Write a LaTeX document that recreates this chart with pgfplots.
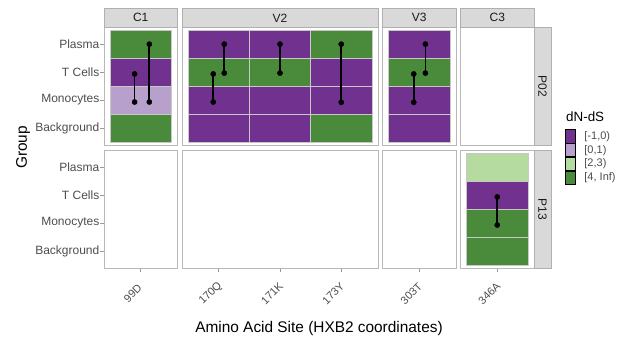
\documentclass[border=0pt]{standalone}
\usepackage{fontspec}
\setmainfont{Liberation Sans}
\usepackage{pgfplots}
\pgfplotsset{compat=1.18}
\definecolor{dpur}{HTML}{70318F}
\definecolor{lpur}{HTML}{B8A0CC}
\definecolor{lgre}{HTML}{B5DBA1}
\definecolor{dgre}{HTML}{4A8B3B}
\definecolor{frame}{HTML}{B8B8B8}
\definecolor{tgrid}{HTML}{C8C8C8}
\definecolor{stripf}{HTML}{D9D9D9}
\definecolor{stripd}{HTML}{B0B0B0}
\definecolor{gthirty}{HTML}{4D4D4D}
\definecolor{gten}{HTML}{1A1A1A}
\newcommand\ticktext{\fontsize{12bp}{14bp}\selectfont}
\newcommand\xticktext{\fontsize{11bp}{13bp}\selectfont}
\newcommand\striptext{\fontsize{12bp}{14bp}\selectfont}
\newcommand\titletext{\fontsize{15.4bp}{18bp}\selectfont}
\newcommand\legtitle{\fontsize{13.4bp}{15bp}\selectfont}
\newcommand\legtext{\fontsize{11bp}{12bp}\selectfont}
\newcommand\tile[5]{\addplot[tile,fill=#5] coordinates {(#1,#2) (#3,#2) (#3,#4) (#1,#4)} --cycle;}
\pgfplotsset{
  panel/.style={scale only axis, anchor=south west, xmin=0.4, ymin=0.4, ymax=4.6,
    height=118bp, axis line style={draw=frame, line width=0.7bp},
    xtick=\empty, ytick=\empty, tick align=outside, major tick length=3.5bp,
    tick style={draw=gray!80, line width=0.6bp}, xtick pos=bottom, ytick pos=left,
    /pgf/number format/assume math mode=true},
  tile/.style={draw=tgrid, line width=0.5bp, forget plot},
  seg/.style={black, line width=1.7bp, mark=*, mark size=2.6bp, mark options={fill=black, line width=0.4bp}, forget plot},
  ylabs/.style={ytick={1,2,3,4}, yticklabels={Background,Monocytes,T Cells,Plasma},
    yticklabel style={font=\ticktext, text=gthirty, inner xsep=1bp}},
  xlabs/.style={xticklabel style={font=\xticktext, text=gthirty, anchor=center, xshift=-8bp, yshift=-22bp, rotate=45}},
}
\begin{document}
\begin{tikzpicture}
\path (0,0) rectangle (629bp,-343bp);
% ---------------- P02 row ----------------
\begin{axis}[panel, at={(104bp,-145bp)}, width=73.5bp, xmax=1.6, ylabs]
\tile{0.5}{3.5}{1.5}{4.5}{dgre}
\tile{0.5}{2.5}{1.5}{3.5}{dpur}
\tile{0.5}{1.5}{1.5}{2.5}{lpur}
\tile{0.5}{0.5}{1.5}{1.5}{dgre}
\addplot[seg] coordinates {(0.90,2.93) (0.90,1.93)};
\addplot[seg] coordinates {(1.14,3.99) (1.14,1.93)};
\end{axis}
\begin{axis}[panel, at={(182bp,-145bp)}, width=196bp, xmax=3.6]
% 170Q
\tile{0.5}{3.5}{1.5}{4.5}{dpur}
\tile{0.5}{2.5}{1.5}{3.5}{dgre}
\tile{0.5}{1.5}{1.5}{2.5}{dpur}
\tile{0.5}{0.5}{1.5}{1.5}{dpur}
% 171K
\tile{1.5}{3.5}{2.5}{4.5}{dpur}
\tile{1.5}{2.5}{2.5}{3.5}{dgre}
\tile{1.5}{1.5}{2.5}{2.5}{dpur}
\tile{1.5}{0.5}{2.5}{1.5}{dpur}
% 173Y
\tile{2.5}{3.5}{3.5}{4.5}{dgre}
\tile{2.5}{2.5}{3.5}{3.5}{dpur}
\tile{2.5}{1.5}{3.5}{2.5}{dpur}
\tile{2.5}{0.5}{3.5}{1.5}{dgre}
\addplot[seg] coordinates {(1.09,3.99) (1.09,2.96)};
\addplot[seg] coordinates {(0.91,2.93) (0.91,1.93)};
\addplot[seg] coordinates {(2.00,3.99) (2.00,2.96)};
\addplot[seg] coordinates {(3.00,3.99) (3.00,1.92)};
\end{axis}
\begin{axis}[panel, at={(382.5bp,-145bp)}, width=73.5bp, xmax=1.6]
\tile{0.5}{3.5}{1.5}{4.5}{dpur}
\tile{0.5}{2.5}{1.5}{3.5}{dgre}
\tile{0.5}{1.5}{1.5}{2.5}{dpur}
\tile{0.5}{0.5}{1.5}{1.5}{dpur}
\addplot[seg] coordinates {(1.10,3.99) (1.10,2.96)};
\addplot[seg] coordinates {(0.91,2.93) (0.91,1.92)};
\end{axis}
\begin{axis}[panel, at={(460.5bp,-145bp)}, width=73.5bp, xmax=1.6]
\end{axis}
% ---------------- P13 row ----------------
\begin{axis}[panel, at={(104bp,-268bp)}, width=73.5bp, xmax=1.6, ylabs, xlabs,
  xtick={1}, xticklabels={99D}]
\end{axis}
\begin{axis}[panel, at={(182bp,-268bp)}, width=196bp, xmax=3.6, xlabs,
  xtick={1,2,3}, xticklabels={170Q,171K,173Y}]
\end{axis}
\begin{axis}[panel, at={(382.5bp,-268bp)}, width=73.5bp, xmax=1.6, xlabs,
  xtick={1}, xticklabels={303T}]
\end{axis}
\begin{axis}[panel, at={(460.5bp,-268bp)}, width=73.5bp, xmax=1.6, xlabs,
  xtick={1}, xticklabels={346A},
  legend style={at={(1.422,1.178)}, anchor=north west, draw=none, fill=none,
    inner sep=0pt, outer sep=0pt, row sep=0pt, font=\legtext,
    nodes={inner sep=0pt, text=gthirty},
    /tikz/every odd column/.style={column sep=9bp}},
  legend cell align=left,
  legend image code/.code={\path[#1] (0bp,-6.75bp) rectangle (10bp,6.75bp);}]
\tile{0.5}{3.5}{1.5}{4.5}{lgre}
\tile{0.5}{2.5}{1.5}{3.5}{dpur}
\tile{0.5}{1.5}{1.5}{2.5}{dgre}
\tile{0.5}{0.5}{1.5}{1.5}{dgre}
\addplot[seg] coordinates {(1.00,2.93) (1.00,1.93)};
\addlegendimage{fill=dpur}\addlegendentry{[-1,0)}
\addlegendimage{fill=lpur}\addlegendentry{[0,1)}
\addlegendimage{fill=lgre}\addlegendentry{[2,3)}
\addlegendimage{fill=dgre}\addlegendentry{[4, Inf)}
\end{axis}
% ---------------- strips ----------------
\begin{scope}[line width=0.6bp]
\draw[fill=stripf, draw=stripd] (104bp,-8.7bp) rectangle (177.5bp,-27bp);
\draw[fill=stripf, draw=stripd] (182bp,-8.7bp) rectangle (378bp,-27bp);
\draw[fill=stripf, draw=stripd] (382.5bp,-8.7bp) rectangle (456bp,-27bp);
\draw[fill=stripf, draw=stripd] (460.5bp,-8.7bp) rectangle (534bp,-27bp);
\draw[fill=stripf, draw=stripd] (534bp,-27bp) rectangle (551bp,-145bp);
\draw[fill=stripf, draw=stripd] (534bp,-150bp) rectangle (551bp,-268bp);
\end{scope}
\node[font=\striptext, text=gten] at (140.75bp,-17.85bp) {C1};
\node[font=\striptext, text=gten] at (280bp,-17.85bp) {V2};
\node[font=\striptext, text=gten] at (419.25bp,-17.85bp) {V3};
\node[font=\striptext, text=gten] at (497.25bp,-17.85bp) {C3};
\node[font=\striptext, text=gten, rotate=-90] at (542.5bp,-86bp) {P02};
\node[font=\striptext, text=gten, rotate=-90] at (542.5bp,-209bp) {P13};
% ---------------- titles ----------------
\node[font=\titletext, rotate=90] at (23bp,-147.5bp) {Group};
\node[font=\titletext] at (319bp,-329bp) {Amino Acid Site (HXB2 coordinates)};
\node[font=\legtitle, anchor=west, inner sep=0pt] at (566bp,-117bp) {dN-dS};
\end{tikzpicture}
\end{document}
